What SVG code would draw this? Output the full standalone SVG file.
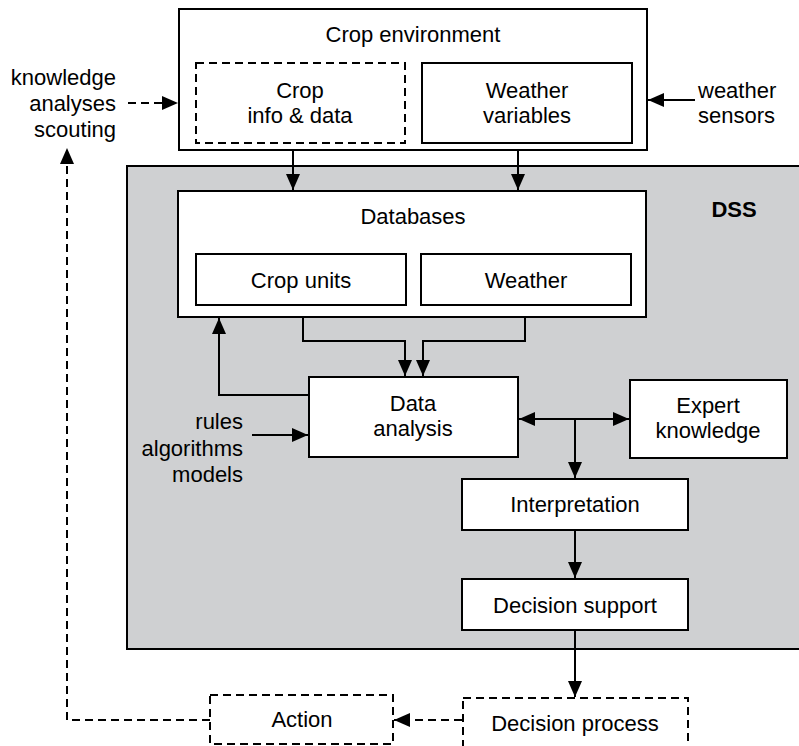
<svg xmlns="http://www.w3.org/2000/svg" width="799" height="746" viewBox="0 0 799 746">
<style>
.box{fill:#fff;stroke:#000;stroke-width:2}
.dbox{fill:#fff;stroke:#000;stroke-width:2;stroke-dasharray:8,5}
.t{font-family:"Liberation Sans",Arial,sans-serif;font-size:22px;fill:#000;text-anchor:middle}
.e{text-anchor:end}
.s{text-anchor:start}
.b{font-weight:bold}
.ln{fill:none;stroke:#000;stroke-width:2}
.arr{marker-end:url(#ah)}
.dash{stroke-dasharray:8,5}
</style>
<defs>
<marker id="ah" markerUnits="userSpaceOnUse" markerWidth="16" markerHeight="14" refX="16" refY="7" orient="auto-start-reverse"><path d="M0,0L16,7L0,14z" fill="#000"/></marker>
</defs>
<g id="dss">
<rect x="127" y="166" width="682" height="483" fill="#cfd0d2" stroke="#000" stroke-width="2"/>
<text class="t b" x="734" y="217">DSS</text>
</g>
<g id="crop-environment">
<rect class="box" x="179" y="9" width="468" height="141"/>
<text class="t" x="413" y="42">Crop environment</text>
</g>
<g id="crop-info">
<rect class="dbox" x="196" y="63" width="209" height="80"/>
<text class="t" x="300" y="98">Crop</text>
<text class="t" x="300" y="123">info &amp; data</text>
</g>
<g id="weather-variables">
<rect class="box" x="422" y="63" width="210" height="80"/>
<text class="t" x="527" y="98">Weather</text>
<text class="t" x="527" y="123">variables</text>
</g>
<g id="knowledge-label">
<text class="t e" x="116" y="85">knowledge</text>
<text class="t e" x="116" y="111">analyses</text>
<text class="t e" x="116" y="137">scouting</text>
</g>
<g id="weather-sensors">
<text class="t s" x="698" y="98">weather</text>
<text class="t s" x="698" y="123">sensors</text>
</g>
<g id="databases">
<rect class="box" x="178" y="191" width="468" height="126"/>
<text class="t" x="413" y="224">Databases</text>
</g>
<g id="crop-units">
<rect class="box" x="196" y="254" width="210" height="51"/>
<text class="t" x="301" y="288">Crop units</text>
</g>
<g id="weather">
<rect class="box" x="421" y="254" width="210" height="51"/>
<text class="t" x="526" y="288">Weather</text>
</g>
<g id="data-analysis">
<rect class="box" x="309" y="377" width="209" height="80"/>
<text class="t" x="413" y="411">Data</text>
<text class="t" x="413" y="436">analysis</text>
</g>
<g id="rules-label">
<text class="t e" x="243" y="429">rules</text>
<text class="t e" x="243" y="456">algorithms</text>
<text class="t e" x="243" y="482">models</text>
</g>
<g id="expert-knowledge">
<rect class="box" x="630" y="380" width="157" height="78"/>
<text class="t" x="708" y="413">Expert</text>
<text class="t" x="708" y="438">knowledge</text>
</g>
<g id="interpretation">
<rect class="box" x="462" y="479" width="226" height="51"/>
<text class="t" x="575" y="512">Interpretation</text>
</g>
<g id="decision-support">
<rect class="box" x="462" y="579" width="226" height="51"/>
<text class="t" x="575" y="613">Decision support</text>
</g>
<g id="action">
<rect class="dbox" x="210" y="695" width="183" height="49"/>
<text class="t" x="302" y="727">Action</text>
</g>
<g id="decision-process">
<rect class="dbox" x="463" y="698" width="225" height="60"/>
<text class="t" x="575" y="731">Decision process</text>
</g>
<g id="connectors">
<path class="ln arr" d="M293,151V190"/>
<path class="ln arr" d="M518,151V190"/>
<path class="ln arr dash" d="M128,103H178"/>
<path class="ln arr" d="M695,100H648"/>
<path class="ln arr" d="M303,318V341H405V376"/>
<path class="ln arr" d="M525,318V341H423V376"/>
<path class="ln arr" d="M309,395H219V318"/>
<path class="ln arr" d="M252,435H308"/>
<path class="ln arr" d="M519,419H629" marker-start="url(#ah)"/>
<path class="ln arr" d="M575,419V478"/>
<path class="ln arr" d="M575,531V578"/>
<path class="ln arr" d="M575,631V697"/>
<path class="ln arr dash" d="M462,720H394"/>
<path class="ln arr dash" d="M210,720H67V148"/>
</g>
</svg>
